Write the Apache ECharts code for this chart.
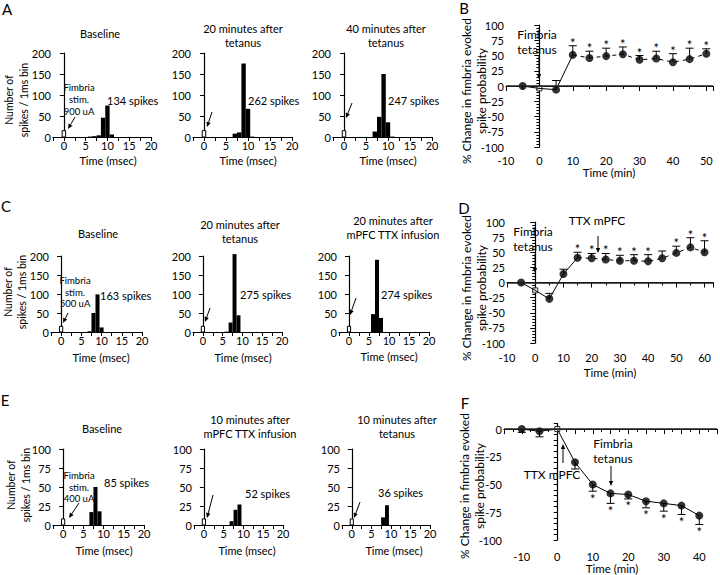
<!DOCTYPE html>
<html>
<head>
<meta charset="utf-8">
<script src="https://cdn.jsdelivr.net/npm/echarts@6/dist/echarts.min.js"></script>
<style>
  html, body { margin: 0; padding: 0; background: #fff; }
  #fig { width: 720px; height: 575px; }
</style>
</head>
<body>
<div id="fig"></div>
<script>
// spike histograms, [bin (ms), count] per 1 ms bin
const histA1 = [[6, 1], [7, 2], [8, 4], [9, 46], [10, 75], [11, 6]]
const histA2 = [[7, 8], [8, 11], [9, 175], [10, 67], [11, 1]]
const histA3 = [[7, 13], [8, 48], [9, 150], [10, 35], [11, 1]]
const histC1 = [[7, 2], [8, 50], [9, 99], [10, 12]]
const histC2 = [[6, 1], [7, 25], [8, 205], [9, 44]]
const histC3 = [[6, 47], [7, 190], [8, 37]]
const histE1 = [[7, 17], [8, 50], [9, 18]]
const histE2 = [[7, 5], [8, 20], [9, 27]]
const histE3 = [[8, 10], [9, 26]]
// stimulus artifact bin at t = 0
const stimCount = [15, 15, 15, 15, 15, 15, 8, 8, 8]
const spikeTotals = [134, 262, 247, 163, 275, 274, 85, 52, 36]
const histTitles = ['Baseline', '20 minutes after\ntetanus', '40 minutes after\ntetanus',
  'Baseline', '20 minutes after\ntetanus', '20 minutes after\nmPFC TTX infusion',
  'Baseline', '10 minutes after\nmPFC TTX infusion', '10 minutes after\ntetanus']
const histYMax = [200, 200, 200, 200, 200, 200, 100, 100, 100]
const histYStep = [50, 50, 50, 50, 50, 50, 25, 25, 25]
const histXTicks = [0, 5, 10, 15, 20]

// % change in fimbria evoked spike probability (mean, s.e.m., significant)
const timeB = [-5, 0, 5, 10, 15, 20, 25, 30, 35, 40, 45, 50]
const meanB = [0, -4, -6, 51, 46, 49, 52, 43, 45, 39, 44, 53]
const semB = [0, 0, 15, 15, 11, 13, 12, 7, 12, 14, 18, 8]
const sigB = [0, 0, 0, 1, 1, 1, 1, 1, 1, 1, 1, 1]

const timeD = [-5, 0, 5, 10, 15, 20, 25, 30, 35, 40, 45, 50, 55, 60]
const meanD = [0, -13, -27, 14, 41, 40, 38, 36, 36, 35, 40, 49, 58, 50]
const semD = [0, 0, 9, 8, 9, 8, 10, 9, 10, 11, 12, 11, 16, 19]
const sigD = [0, 0, 0, 0, 1, 1, 1, 1, 1, 1, 0, 1, 1, 1]

const timeF = [-10, -5, 0, 5, 10, 15, 20, 25, 30, 35, 40]
const meanF = [0, -2, 0, -30, -50, -58, -59, -65, -67, -69, -78]
const semF = [3, 5, 0, 6, 6, 9, 4, 6, 7, 8, 8]
const sigF = [0, 0, 0, 0, 1, 1, 1, 1, 1, 1, 1]

const FONT = 'Lato'

// layout of the panels (pixels)
const histGrids = [
  { left: 53, top: 53, width: 98, height: 84 },
  { left: 193, top: 53, width: 99, height: 84 },
  { left: 333, top: 53, width: 99, height: 84 },
  { left: 51, top: 256, width: 91, height: 76 },
  { left: 193, top: 256, width: 89, height: 76 },
  { left: 339, top: 256, width: 90, height: 76 },
  { left: 53, top: 449, width: 91, height: 76 },
  { left: 194, top: 449, width: 89, height: 76 },
  { left: 342, top: 449, width: 88, height: 76 }
]
const lineGrids = [
  { left: 506, top: 25, width: 207, height: 122 },
  { left: 507, top: 222, width: 206, height: 121 },
  { left: 504, top: 423.5, width: 224.4, height: 116.5 }
]
const lineLabelMargin = [8, 9, 11]

const chart = echarts.init(document.getElementById('fig'), null, { renderer: 'svg' })

const axisLineStyle = { color: '#000', width: 1.2 }
const tickStyle = { color: '#000', width: 1 }
const labelStyle = { color: '#000', fontSize: 11, fontFamily: FONT }

const grids = [], xAxes = [], yAxes = [], series = []

histGrids.forEach((g, i) => {
  grids.push(g)
  xAxes.push({
    gridIndex: i, type: 'value', min: -2.5, max: 20, interval: 2.5,
    axisLine: { lineStyle: axisLineStyle },
    axisTick: { length: 4, lineStyle: tickStyle },
    axisLabel: { ...labelStyle, margin: 3, formatter: v => histXTicks.includes(v) ? String(v) : '' },
    splitLine: { show: false }
  })
  yAxes.push({
    gridIndex: i, type: 'value', min: 0, max: histYMax[i], interval: histYStep[i],
    axisLine: { show: true, lineStyle: axisLineStyle },
    axisTick: { show: true, length: 4, lineStyle: tickStyle },
    axisLabel: { ...labelStyle, margin: 2 },
    splitLine: { show: false }
  })
})

const hists = [histA1, histA2, histA3, histC1, histC2, histC3, histE1, histE2, histE3]
hists.forEach((h, i) => {
  series.push({
    type: 'custom', xAxisIndex: i, yAxisIndex: i, data: h, silent: true,
    renderItem: (params, api) => {
      const x = api.value(0), n = api.value(1)
      const tl = api.coord([x - 0.5, n]), br = api.coord([x + 0.5, 0])
      return { type: 'rect', shape: { x: tl[0], y: tl[1], width: br[0] - tl[0], height: br[1] - tl[1] }, style: { fill: '#000' } }
    }
  })
  series.push({
    type: 'custom', xAxisIndex: i, yAxisIndex: i, data: [[0, stimCount[i]]], silent: true,
    renderItem: (params, api) => {
      const x = api.value(0), n = api.value(1)
      const tl = api.coord([x - 0.4, n]), br = api.coord([x + 0.4, 0])
      return { type: 'rect', shape: { x: tl[0], y: tl[1], width: br[0] - tl[0], height: br[1] - tl[1] }, style: { fill: '#fff', stroke: '#000', lineWidth: 1 } }
    }
  })
})

// time-course panels
const courses = [
  { t: timeB, m: meanB, e: semB, s: sigB, dir: 1, dashFrom: 3, x: [-10, 52, 10], y: [-100, 100] },
  { t: timeD, m: meanD, e: semD, s: sigD, dir: 1, dashFrom: 4, x: [-10, 63, 10], y: [-100, 100] },
  { t: timeF, m: meanF, e: semF, s: sigF, dir: -1, dashFrom: null, x: [-15, 45, 5], y: [-100, 5] }
]
courses.forEach((c, k) => {
  const gi = 9 + k
  grids.push(lineGrids[k])
  const isF = k === 2
  xAxes.push({
    gridIndex: gi, type: 'value', min: c.x[0], max: c.x[1], interval: c.x[2],
    axisLine: { lineStyle: axisLineStyle },
    axisTick: { length: 5, lineStyle: tickStyle },
    minorTick: { show: true, splitNumber: 2, length: 3, lineStyle: tickStyle },
    axisLabel: { ...labelStyle, margin: lineLabelMargin[k], formatter: v => (v % 10 === 0 && v >= c.t[0] - 5 && v <= c.t[c.t.length - 1]) ? String(v) : '' },
    splitLine: { show: false }, minorSplitLine: { show: false }
  })
  yAxes.push({
    gridIndex: gi, type: 'value', min: c.y[0], max: c.y[1], interval: isF ? 5 : 25,
    axisLine: { show: true, lineStyle: axisLineStyle },
    axisTick: { show: true, length: isF ? 3.5 : 5, lineStyle: tickStyle },
    minorTick: { show: !isF, splitNumber: 5, length: 3, lineStyle: tickStyle },
    axisLabel: { ...labelStyle, margin: 2, formatter: v => (v % 25 === 0 && v <= 100) ? String(v) : '' },
    splitLine: { show: false }, minorSplitLine: { show: false }
  })
  const pts = c.t.map((t, i) => [t, c.m[i]])
  // error bars with significance asterisks
  series.push({
    type: 'custom', xAxisIndex: gi, yAxisIndex: gi, silent: true,
    data: c.t.map((t, i) => [t, c.m[i], c.e[i], c.s[i]]),
    renderItem: (params, api) => {
      const t = api.value(0), m = api.value(1), e = api.value(2), s = api.value(3)
      const p = api.coord([t, m]), q = api.coord([t, m + c.dir * e])
      const children = []
      if (e > 0) {
        children.push({ type: 'line', shape: { x1: p[0], y1: p[1], x2: q[0], y2: q[1] }, style: { stroke: '#000', lineWidth: 1 } })
        children.push({ type: 'line', shape: { x1: q[0] - 4, y1: q[1], x2: q[0] + 4, y2: q[1] }, style: { stroke: '#000', lineWidth: 1 } })
      }
      if (s) {
        children.push({ type: 'text', x: q[0], y: q[1] + (c.dir > 0 ? -3 : 7.5),
          style: { text: '*', fontSize: 13, fontFamily: FONT, fill: '#000', align: 'center', verticalAlign: 'middle' } })
      }
      return { type: 'group', children }
    }
  })
  const solidEnd = c.dashFrom === null ? pts.length : c.dashFrom + 1
  series.push({
    type: 'line', xAxisIndex: gi, yAxisIndex: gi, data: pts.slice(0, solidEnd), showSymbol: false, silent: true,
    lineStyle: { color: '#000', width: 1 },
    markLine: { silent: true, symbol: 'none', label: { show: false }, lineStyle: { color: '#222', width: 1.5, type: 'solid' }, data: [{ yAxis: 0 }] }
  })
  if (c.dashFrom !== null) {
    series.push({
      type: 'line', xAxisIndex: gi, yAxisIndex: gi, data: pts.slice(c.dashFrom), showSymbol: false, silent: true,
      lineStyle: { color: '#000', width: 1, type: [4, 4] }
    })
  }
  series.push({
    type: 'scatter', xAxisIndex: gi, yAxisIndex: gi, silent: true,
    data: pts.filter(d => d[0] !== 0), symbol: 'circle', symbolSize: 8,
    itemStyle: { color: '#000' }
  })
  series.push({
    type: 'scatter', xAxisIndex: gi, yAxisIndex: gi, silent: true,
    data: pts.filter(d => d[0] === 0), symbol: 'rect', symbolSize: 5,
    itemStyle: { color: '#fff', borderColor: '#000', borderWidth: 1 }
  })
})

// text and arrows
function txt(x, y, s, size, align, lh) {
  return { type: 'text', x, y, silent: true,
    style: { text: s, fontSize: size, fontFamily: FONT, fill: '#000', align: align || 'center', verticalAlign: 'middle', lineHeight: lh || size + 3 } }
}
function vtxt(x, y, s, size, lh) {
  return { type: 'text', x, y, rotation: Math.PI / 2, silent: true,
    style: { text: s, fontSize: size, fontFamily: FONT, fill: '#000', align: 'center', verticalAlign: 'middle', lineHeight: lh } }
}
function arrow(x1, y1, x2, y2) {
  const a = Math.atan2(y2 - y1, x2 - x1), h = 5, w = 2.2
  const bx = x2 - h * Math.cos(a), by = y2 - h * Math.sin(a)
  return [
    { type: 'line', silent: true, shape: { x1, y1, x2: bx, y2: by }, style: { stroke: '#000', lineWidth: 1 } },
    { type: 'polygon', silent: true, shape: { points: [[x2, y2], [bx + w * Math.sin(a), by - w * Math.cos(a)], [bx - w * Math.sin(a), by + w * Math.cos(a)]] }, style: { fill: '#000' } }
  ]
}

const titlePos = [[100, 33], [243, 35], [386, 35], [98, 233], [240, 231], [393, 227], [102, 428], [250, 426], [397, 426]]
const timeLabelPos = [[108, 160], [248, 160], [388, 160], [101, 357], [243, 357], [389, 356], [104, 550], [247, 550], [394, 550]]
const totalPos = [[107, 100], [248, 100], [388, 100], [100, 295], [240, 294], [381, 294], [104, 482], [245, 493], [378, 492]]
const stimArrows = [[75, 117, 68, 129], [212, 112, 207, 127], [352, 103, 346, 118],
  [68, 313, 63, 323], [210, 308, 205, 322], [356, 298, 350, 315],
  [79, 503, 69, 518], [213, 495, 207, 518], [360, 502, 354, 518]]

const graphics = []
histTitles.forEach((s, i) => {
  graphics.push(txt(titlePos[i][0], titlePos[i][1], s, 11))
  graphics.push(txt(timeLabelPos[i][0], timeLabelPos[i][1], 'Time (msec)', 11))
  graphics.push(txt(totalPos[i][0], totalPos[i][1], spikeTotals[i] + ' spikes', 11, 'left'))
  graphics.push(...arrow(...stimArrows[i]))
})
graphics.push(txt(79, 99, 'Fimbria\nstim.\n900 uA', 9.5, 'center', 12))
graphics.push(txt(75, 292, 'Fimbria\nstim.\n500 uA', 9.5, 'center', 11.5))
graphics.push(txt(79, 487, 'Fimbria\nstim.\n400 uA', 9.5, 'center', 11.5))

graphics.push(vtxt(16, 100, 'Number of\nspikes / 1ms bin', 10.5, 15))
graphics.push(vtxt(15, 292, 'Number of\nspikes / 1ms bin', 10.5, 14))
graphics.push(vtxt(18, 485, 'Number of\nspikes / 1ms bin', 10.5, 15))
graphics.push(vtxt(474, 91, '% Change in fimbria evoked\nspike probability', 12, 15))
graphics.push(vtxt(474, 288, '% Change in fimbria evoked\nspike probability', 12, 15))
graphics.push(vtxt(472, 486, '% Change in fimbria evoked\nspike probability', 12, 15))

graphics.push(txt(609, 172, 'Time (min)', 11.5))
graphics.push(txt(610, 372, 'Time (min)', 11.5))
graphics.push(txt(612, 568, 'Time (min)', 11.5))

graphics.push(txt(537, 42, 'Fimbria\ntetanus', 12))
graphics.push(...arrow(539, 56, 539, 79))
graphics.push(txt(533, 239, 'Fimbria\ntetanus', 12))
graphics.push(...arrow(535, 254, 535, 273))
graphics.push(txt(597, 220, 'TTX mPFC', 12))
graphics.push(...arrow(598, 236, 598, 253))
graphics.push(txt(552, 474, 'TTX mPFC', 12))
graphics.push(...arrow(563, 463, 563, 444))
graphics.push(txt(613, 451, 'Fimbria\ntetanus', 12))
graphics.push(...arrow(611, 466, 611, 486))

const letters = [['A', 7, 9], ['B', 464, 8], ['C', 6, 206], ['D', 464, 208], ['E', 5, 400], ['F', 465, 403]]
letters.forEach(l => graphics.push(txt(l[1], l[2], l[0], 15)))

chart.setOption({
  animation: false,
  backgroundColor: '#fff',
  grid: grids,
  xAxis: xAxes,
  yAxis: yAxes,
  series: series,
  graphic: graphics
})
</script>
</body>
</html>
